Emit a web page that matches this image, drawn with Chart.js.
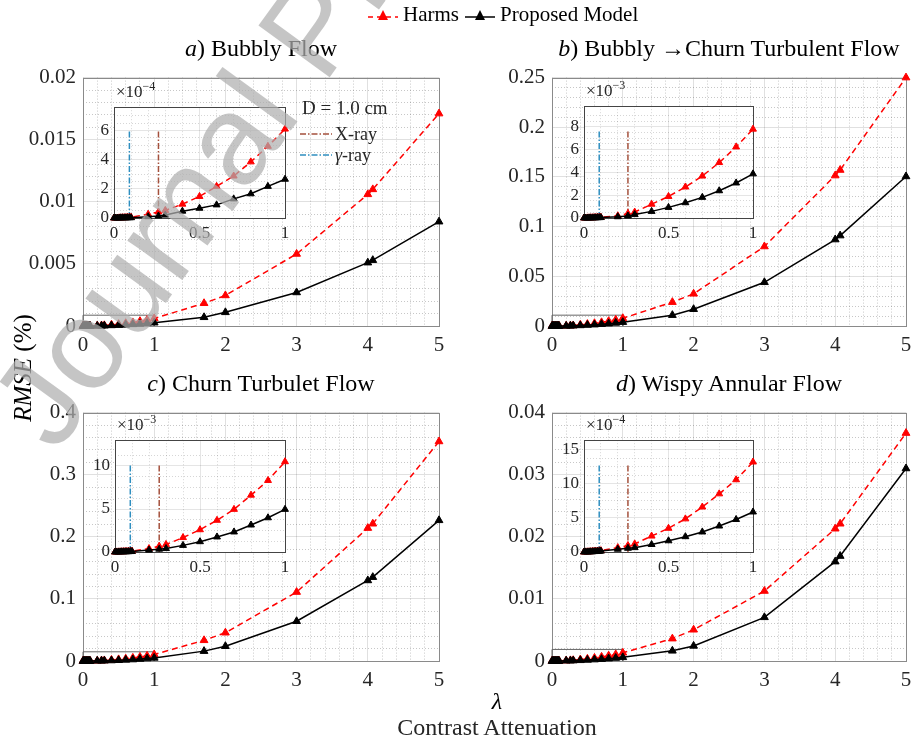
<!DOCTYPE html>
<html>
<head>
<meta charset="utf-8">
<script src="https://cdn.jsdelivr.net/npm/chart.js@4.4.0/dist/chart.umd.min.js"></script>
<style>
  body{margin:0;background:#fff;}
  #fig{position:relative;width:913px;height:742px;overflow:hidden;font-family:"Liberation Serif",serif;color:#000;background:#fff;}
  #fig canvas{position:absolute;}
  .txt{position:absolute;white-space:nowrap;line-height:1;}
</style>
</head>
<body>
<div id="fig"></div>
<script>
// lambda values (contrast attenuation)
const lambdaVals = [0, 0.01, 0.02, 0.03, 0.04, 0.05, 0.06, 0.07, 0.08, 0.09, 0.1,
  0.2, 0.26, 0.3, 0.4, 0.5, 0.6, 0.7, 0.8, 0.9, 1, 1.7, 2, 3, 4, 4.07, 5];

// a) Bubbly Flow  (x1e-4)
const harmsA = [0, 0, 0, 0.01, 0.01, 0.02, 0.02, 0.03, 0.04, 0.05, 0.06,
  0.26, 0.42, 0.52, 0.95, 1.48, 2.17, 2.88, 3.85, 4.92, 6.1, 18.3, 24.6, 58, 106, 110, 171];
const modelA = [0, 0, 0, 0, 0.01, 0.01, 0.01, 0.01, 0.02, 0.02, 0.02,
  0.09, 0.14, 0.2, 0.47, 0.67, 0.9, 1.31, 1.66, 2.17, 2.66, 7, 11, 27, 51, 53, 84];
// b) Bubbly -> Churn Turbulent Flow  (x1e-3)
const harmsB = [0, 0, 0.01, 0.01, 0.02, 0.02, 0.03, 0.04, 0.05, 0.06, 0.07,
  0.19, 0.4, 0.52, 1.21, 1.89, 2.72, 3.68, 4.86, 6.23, 7.79, 24, 32.4, 80, 151.4, 157, 250];
const modelB = [0, 0, 0, 0.01, 0.01, 0.01, 0.02, 0.02, 0.03, 0.03, 0.04,
  0.11, 0.18, 0.3, 0.58, 0.93, 1.34, 1.81, 2.39, 3.07, 3.87, 10.9, 16.9, 44, 87, 91, 150.5];
// c) Churn Turbulet Flow  (x1e-3)
const harmsC = [0, 0.01, 0.01, 0.02, 0.03, 0.04, 0.05, 0.06, 0.07, 0.09, 0.1,
  0.4, 0.68, 0.88, 1.68, 2.59, 3.69, 4.96, 6.61, 8.32, 10.5, 33.3, 45.5, 111, 214, 221, 353.5];
const modelC = [0, 0, 0.01, 0.01, 0.02, 0.02, 0.03, 0.03, 0.04, 0.05, 0.06,
  0.22, 0.33, 0.4, 0.77, 1.2, 1.75, 2.33, 3.14, 3.98, 4.96, 15.9, 23.8, 64, 129.7, 135, 226.5];
// d) Wispy Annular Flow  (x1e-4)
const harmsD = [0, 0.01, 0.02, 0.03, 0.05, 0.07, 0.09, 0.11, 0.14, 0.17, 0.2,
  0.64, 0.96, 1.19, 2.34, 3.48, 4.86, 6.6, 8.53, 10.6, 13.2, 36, 50.3, 112.7, 213, 221, 367];
const modelD = [0, 0.01, 0.01, 0.02, 0.03, 0.04, 0.06, 0.07, 0.09, 0.11, 0.13,
  0.41, 0.55, 0.64, 1.1, 1.65, 2.25, 2.94, 3.81, 4.77, 5.87, 16.4, 24.3, 70.3, 160, 169, 310];

// source lines in the insets
const gammaLambda = 0.09;
const xrayLambda = 0.26;
const sourceTop = [6.0, 7.7, 10.3, 12.9];     // in inset units
const insetTop = [7.6, 9.8, 13, 16.4];        // inset y limit
const zoomBoxTop = [0.00087, 0.0109, 0.0148, 0.00186];

const titles = ['<i>a</i>) Bubbly Flow', '<i>b</i>) Bubbly &#8594;Churn Turbulent Flow',
  '<i>c</i>) Churn Turbulet Flow', '<i>d</i>) Wispy Annular Flow'];
const exps = ['4', '3', '3', '4'];

const SERIF = '"Liberation Serif", serif';
const RED = '#ff0000';
const BLUE = '#2f8fc0';
const BROWN = '#a4503c';

const panels = [
  {harms: harmsA, model: modelA, unit: 1e-4, yMax: 0.02, yMajor: 0.005, iStep: 2, frame: [83, 74, 356, 252], inset: [114, 100, 171, 118]},
  {harms: harmsB, model: modelB, unit: 1e-3, yMax: 0.25, yMajor: 0.05, iStep: 2, frame: [552, 74, 354, 252], inset: [584, 99, 169, 119]},
  {harms: harmsC, model: modelC, unit: 1e-3, yMax: 0.4, yMajor: 0.1, iStep: 5, frame: [83, 409, 356, 252], inset: [115, 433, 170, 119]},
  {harms: harmsD, model: modelD, unit: 1e-4, yMax: 0.04, yMajor: 0.01, iStep: 5, frame: [552, 409, 354, 252], inset: [584, 433, 169, 119]}
];

const fig = document.getElementById('fig');

function addCanvas(x, y, w, h){
  const c = document.createElement('canvas');
  c.width = w; c.height = h;
  c.style.left = x + 'px'; c.style.top = y + 'px';
  c.style.width = w + 'px'; c.style.height = h + 'px';
  fig.appendChild(c);
  return c;
}

function addText(html, x, y, css){
  const d = document.createElement('div');
  d.className = 'txt';
  d.innerHTML = html;
  d.style.left = x + 'px';
  d.style.top = y + 'px';
  Object.assign(d.style, css || {});
  fig.appendChild(d);
  return d;
}

const isMajor = (v, step) => Math.abs(v / step - Math.round(v / step)) < 1e-6;
const fmt = v => String(+v.toFixed(4));

// linear axis with MATLAB-like major/minor grid
function axis(min, max, major, minor, size, pad, alpha){
  return {
    type: 'linear', min: min, max: max,
    ticks: {stepSize: minor, autoSkip: false, maxRotation: 0, padding: pad, color: '#262626',
      font: {family: SERIF, size: size},
      callback: v => isMajor(v, major) ? fmt(v) : ''},
    grid: {drawTicks: false, lineWidth: 1,
      color: c => (c.tick && isMajor(c.tick.value, major)) ? 'rgba(0,0,0,' + alpha[0] + ')' : 'rgba(0,0,0,' + alpha[1] + ')'},
    border: {display: false,
      dash: c => (c.tick && isMajor(c.tick.value, major)) ? [] : [1, 2]}
  };
}

// white plot background + box round the chart area
const framePlugin = {
  id: 'frame',
  beforeDraw(chart, args, o){
    if(!o.fill) return;
    const a = chart.chartArea, ctx = chart.ctx;
    ctx.save();
    ctx.fillStyle = '#fff';
    ctx.fillRect(a.left, a.top, a.right - a.left, a.bottom - a.top);
    ctx.restore();
  },
  beforeDatasetsDraw(chart, args, o){
    const a = chart.chartArea, ctx = chart.ctx;
    ctx.save();
    ctx.strokeStyle = o.color;
    ctx.lineWidth = 1;
    ctx.strokeRect(Math.round(a.left) + 0.5, Math.round(a.top) + 0.5,
      Math.round(a.right - a.left), Math.round(a.bottom - a.top));
    ctx.restore();
  }
};

function series(vals, scale, xmax){
  return lambdaVals.map((x, i) => ({x: x, y: vals[i] * scale})).filter(p => p.x <= xmax);
}

function lineSet(data, color, dash, r){
  return {data: data, borderColor: color, backgroundColor: color, borderWidth: 1.5,
    borderDash: dash, pointStyle: 'triangle', pointRadius: r, pointBorderColor: color,
    pointBorderWidth: 1, clip: false, tension: 0};
}

function makeChart(frame, m, datasets, xAxis, yAxis, frameOpts){
  const [l, t, w, h] = frame;
  const cv = addCanvas(l - m.L, t - m.T, w + m.L + m.R, h + m.T + m.B);
  xAxis.afterFit = s => { s.height = m.B; };
  yAxis.afterFit = s => { s.width = m.L; };
  return new Chart(cv, {
    type: 'line',
    data: {datasets: datasets},
    options: {
      responsive: false, animation: false, events: [],
      layout: {padding: {top: m.T, right: m.R, left: 0, bottom: 0}},
      plugins: {legend: {display: false}, tooltip: {enabled: false}, frame: frameOpts},
      scales: {x: xAxis, y: yAxis}
    },
    plugins: [framePlugin]
  });
}

panels.forEach((p, k) => {
  // main axes
  makeChart(p.frame, {L: 80, T: 16, R: 16, B: 38}, [
    lineSet(series(p.model, p.unit, 5), '#000', [], 4.5),
    lineSet(series(p.harms, p.unit, 5), RED, [6, 4], 4.5),
    {data: [{x: 0, y: 0}, {x: 0, y: zoomBoxTop[k]}, {x: 1, y: zoomBoxTop[k]}, {x: 1, y: 0}],
      borderColor: '#666', borderWidth: 1, pointRadius: 0, clip: false}
  ],
  axis(0, 5, 1, 0.2, 21, 7, [0.12, 0.22]),
  axis(0, p.yMax, p.yMajor, p.yMajor / 5, 21, 7, [0.12, 0.22]),
  {color: '#8a8a8a', fill: false});

  // inset axes
  makeChart(p.inset, {L: 30, T: 8, R: 10, B: 26}, [
    lineSet(series(p.model, 1, 1), '#000', [], 4),
    lineSet(series(p.harms, 1, 1), RED, [6, 4], 4),
    {data: [{x: xrayLambda, y: 0}, {x: xrayLambda, y: sourceTop[k]}], borderColor: BROWN,
      borderWidth: 1.5, borderDash: [6, 2, 1.5, 2], pointRadius: 0},
    {data: [{x: gammaLambda, y: 0}, {x: gammaLambda, y: sourceTop[k]}], borderColor: BLUE,
      borderWidth: 1.5, borderDash: [6, 2, 1.5, 2], pointRadius: 0}
  ],
  axis(0, 1, 0.5, 0.1, 17, 5, [0.1, 0.16]),
  axis(0, insetTop[k], p.iStep, p.iStep / 4, 17, 5, [0.1, 0.16]),
  {color: '#444', fill: true});

  const [il, it] = p.inset;
  addText('&times;10<sup style="font-size:12px">&minus;' + exps[k] + '</sup>', il + 2, it - 20,
    {fontSize: '17px', color: '#262626'});

  const [fl, ft, fw] = p.frame;
  addText(titles[k], fl + fw / 2, ft - 26, {fontSize: '24px', transform: 'translate(-50%,-50%)'});
});

// source legend in panel a
addText(
  '<div style="font-size:19px;margin-left:2px">D = 1.0 cm</div>' +
  '<div style="font-size:18px;margin-top:8px;display:flex;align-items:center">' +
    '<svg width="32" height="10"><line x1="0" y1="5" x2="32" y2="5" stroke="' + BROWN + '" stroke-width="1.5" stroke-dasharray="6 2 1.5 2"/></svg>' +
    '<span style="margin-left:3px">X-ray</span></div>' +
  '<div style="font-size:18px;margin-top:3px;display:flex;align-items:center">' +
    '<svg width="32" height="10"><line x1="0" y1="5" x2="32" y2="5" stroke="' + BLUE + '" stroke-width="1.5" stroke-dasharray="6 2 1.5 2"/></svg>' +
    '<span style="margin-left:3px"><i>&gamma;</i>-ray</span></div>',
  300, 98, {color: '#262626'});

// top legend
const tri = c => '<polygon points="15,3 20,13 10,13" fill="' + c + '"/>';
addText(
  '<div style="display:flex;align-items:center;font-size:21px">' +
  '<svg width="30" height="16"><line x1="0" y1="10" x2="30" y2="10" stroke="' + RED + '" stroke-width="1.5" stroke-dasharray="5 4"/>' + tri(RED) + '</svg>' +
  '<span style="margin:0 6px 0 5px">Harms</span>' +
  '<svg width="30" height="16"><line x1="0" y1="10" x2="30" y2="10" stroke="#000" stroke-width="1.5"/>' + tri('#000') + '</svg>' +
  '<span style="margin-left:5px">Proposed Model</span></div>',
  368, 4);

// axis labels
addText('<i>RMSE</i> (%)', 22, 368, {fontSize: '25px', transform: 'translate(-50%,-50%) rotate(-90deg)'});
addText('<i>&lambda;</i>', 497, 701, {fontSize: '24px', transform: 'translate(-50%,-50%)'});
addText('Contrast Attenuation', 497, 727, {fontSize: '24px', transform: 'translate(-50%,-50%)', color: '#262626'});

// watermark
addText('Journal Pre-proof', 72, 338, {fontFamily: '"Liberation Sans", sans-serif', fontSize: '128px',
  lineHeight: '128px', color: 'rgba(175,175,175,0.72)', transformOrigin: '0 100%',
  transform: 'rotate(-54deg)', pointerEvents: 'none'});
</script>
</body>
</html>
